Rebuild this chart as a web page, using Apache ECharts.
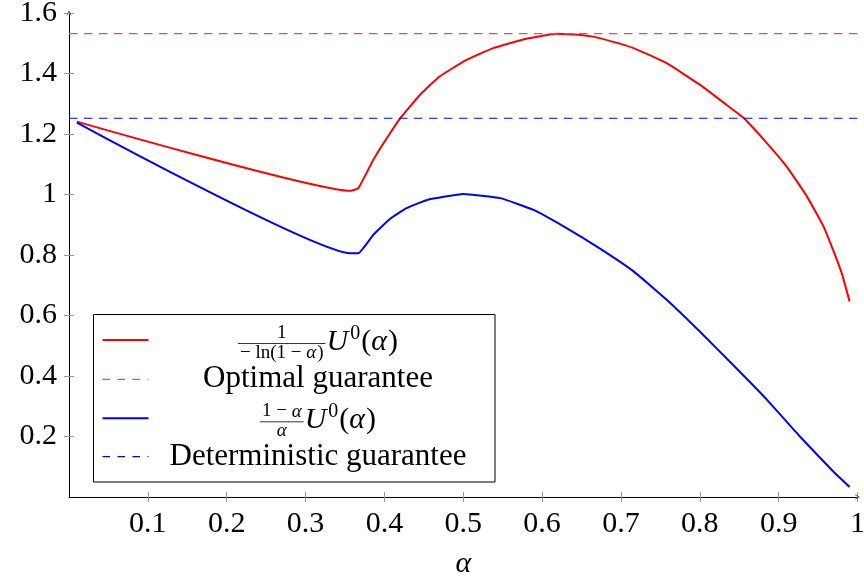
<!DOCTYPE html>
<html>
<head>
<meta charset="utf-8">
<script src="https://cdn.jsdelivr.net/npm/echarts@6/dist/echarts.min.js"></script>
<style>
  html, body { margin: 0; padding: 0; background: #fff; }
</style>
</head>
<body>
<div id="chart" style="width: 864px; height: 577px"></div>
<script>
// values
var redAlpha = [0.010, 0.357, 0.367, 0.386, 0.403, 0.420, 0.445, 0.470, 0.504, 0.538, 0.580, 0.618, 0.657, 0.673, 0.716, 0.758, 0.800, 0.834, 0.856, 0.885, 0.910, 0.936, 0.957, 0.969, 0.980, 0.990];
var redValue = [1.241, 1.012, 1.021, 1.115, 1.186, 1.252, 1.329, 1.390, 1.445, 1.484, 1.515, 1.531, 1.525, 1.517, 1.484, 1.434, 1.363, 1.296, 1.252, 1.170, 1.093, 0.993, 0.894, 0.817, 0.740, 0.646];
var blueAlpha = [0.010, 0.357, 0.367, 0.386, 0.407, 0.428, 0.454, 0.500, 0.547, 0.589, 0.631, 0.673, 0.716, 0.758, 0.800, 0.842, 0.885, 0.927, 0.969, 0.990];
var blueValue = [1.238, 0.806, 0.806, 0.867, 0.919, 0.955, 0.982, 1.002, 0.988, 0.949, 0.889, 0.822, 0.746, 0.652, 0.547, 0.437, 0.322, 0.200, 0.085, 0.033];
var optimalGuarantee = 1.532;
var deterministicGuarantee = 1.252;
var guideAlpha = [0, 1.01];
var xTicks = [0.1, 0.2, 0.3, 0.4, 0.5, 0.6, 0.7, 0.8, 0.9, 1];
var yTicks = [0.2, 0.4, 0.6, 0.8, 1, 1.2, 1.4, 1.6];

var FONT = '"Liberation Serif", "DejaVu Serif", serif';
var chart = echarts.init(document.getElementById("chart"));

function pairs(xs, ys) {
  return xs.map(function (x, i) {
    return [x, ys[i]];
  });
}

// text measuring for the hand made legend
var ctx = document.createElement("canvas").getContext("2d");
function fontStr(size, italic) {
  return (italic ? "italic " : "") + size + "px " + FONT;
}
function textW(t, size, italic) {
  ctx.font = fontStr(size, italic);
  return ctx.measureText(t).width;
}
// one piece of text put on a baseline
function piece(x, base, t, size, italic, align) {
  return {
    type: "text",
    x: x,
    y: base - 0.305 * size,
    z: 110,
    style: {
      text: t,
      font: fontStr(size, italic),
      fill: "#000",
      align: align || "left",
      verticalAlign: "middle",
    },
  };
}
// a run of pieces, left to right; parts = [text, size, italic, baseShift, extraGap]
function run(x0, base, parts, out) {
  var x = x0;
  parts.forEach(function (p) {
    out.push(piece(x, base + (p[3] || 0), p[0], p[1], p[2]));
    x += textW(p[0], p[1], p[2]) + (p[4] || 0);
  });
  return x - x0;
}
function runWidth(parts) {
  var w = 0;
  parts.forEach(function (p) {
    w += textW(p[0], p[1], p[2]) + (p[4] || 0);
  });
  return w;
}
// fraction followed by U^0(alpha)
function mathRow(cx, bar, num, den, out) {
  var big = 30;
  var numW = runWidth(num), denW = runWidth(den);
  var fracW = Math.max(numW, denW) + 4;
  var tail = [
    ["U", big, true, 0, 2],
    ["0", 20, false, -11, 1],
    ["(", big, false, 0],
    ["α", big, true, 0, 1],
    [")", big, false, 0],
  ];
  var tailW = runWidth(tail);
  var x0 = cx - (fracW + 1 + tailW) / 2;
  var fc = x0 + fracW / 2;
  run(fc - numW / 2, bar - 4.5, num, out);
  run(fc - denW / 2, bar + 15, den, out);
  out.push({
    type: "line",
    z: 110,
    shape: { x1: x0, y1: bar, x2: x0 + fracW, y2: bar },
    style: { stroke: "#000", lineWidth: 0.8 },
  });
  run(x0 + fracW + 1, bar + 7.5, tail, out);
}

function sample(y, color, dashed) {
  return {
    type: "line",
    z: 110,
    shape: { x1: 102.5, y1: y, x2: 148.5, y2: y },
    style: {
      stroke: color,
      lineWidth: dashed ? 1.2 : 2,
      lineDash: dashed ? [7.5, 7.5] : null,
    },
  };
}

var legend = [
  {
    type: "rect",
    z: 100,
    shape: { x: 93.5, y: 314.5, width: 401.5, height: 167.5 },
    style: { fill: "#fff", stroke: "#000", lineWidth: 1 },
  },
  sample(340, "#ff0000", false),
  sample(379.3, "#ff4444", true),
  sample(418.3, "#0000ff", false),
  sample(456.7, "#0000ff", true),
];
var cxText = 318;
mathRow(cxText, 343.5,
  [["1", 19, false]],
  [["− ln(1 − ", 19, false], ["α", 19, true, 0, 1], [")", 19, false]],
  legend);
mathRow(cxText, 421.8,
  [["1 − ", 19, false], ["α", 19, true]],
  [["α", 19, true]],
  legend);
legend.push(piece(cxText, 388, "Optimal guarantee", 31, false, "center"));
legend.push(piece(cxText, 466.7, "Deterministic guarantee", 31, false, "center"));

var arrowHead = "path://M0,10 L5,0 L10,10 L9,10 L5,2 L1,10 Z";
var gridBox = { left: 69, right: 6.5, top: 13, bottom: 80, outerBoundsMode: "none" };
var tickStyle = { color: "#999", width: 1 };

var option = {
  animation: false,
  backgroundColor: "#fff",
  // two grids on the same box: the second only gives the inner half of each tick
  grid: [gridBox, gridBox],
  xAxis: [
    {
      type: "value",
      gridIndex: 0,
      min: 0,
      max: 1,
      name: "α",
      nameLocation: "middle",
      nameGap: 52,
      nameTextStyle: { fontFamily: FONT, fontStyle: "italic", fontSize: 30, color: "#000" },
      axisLine: {
        show: true,
        lineStyle: { color: "#000", width: 1 },
        symbol: ["none", arrowHead],
        symbolSize: [8, 5],
      },
      axisTick: { show: true, length: 5, customValues: xTicks, lineStyle: tickStyle },
      axisLabel: { customValues: xTicks, fontFamily: FONT, fontSize: 30, color: "#000", margin: 12 },
      splitLine: { show: false },
    },
    {
      type: "value",
      gridIndex: 1,
      min: 0,
      max: 1,
      axisLine: { show: false },
      axisTick: { show: true, inside: true, length: 5, customValues: xTicks, lineStyle: tickStyle },
      axisLabel: { show: false },
      splitLine: { show: false },
    },
  ],
  yAxis: [
    {
      type: "value",
      gridIndex: 0,
      min: 0,
      max: 1.6,
      axisLine: {
        show: true,
        lineStyle: { color: "#000", width: 1 },
        symbol: ["none", arrowHead],
        symbolSize: [8, 5],
      },
      axisTick: { show: true, length: 5, customValues: yTicks, lineStyle: tickStyle },
      axisLabel: { customValues: yTicks, fontFamily: FONT, fontSize: 30, color: "#000", margin: 12 },
      splitLine: { show: false },
    },
    {
      type: "value",
      gridIndex: 1,
      min: 0,
      max: 1.6,
      axisLine: { show: false },
      axisTick: { show: true, inside: true, length: 5, customValues: yTicks, lineStyle: tickStyle },
      axisLabel: { show: false },
      splitLine: { show: false },
    },
  ],
  series: [
    {
      name: "red",
      type: "line",
      data: pairs(redAlpha, redValue),
      showSymbol: false,
      smooth: 0.12,
      lineStyle: { color: "#ff0000", width: 2 },
    },
    {
      name: "Optimal guarantee",
      type: "line",
      data: pairs(guideAlpha, [optimalGuarantee, optimalGuarantee]),
      showSymbol: false,
      clip: false,
      lineStyle: { color: "#ff4444", width: 1.3, type: [8.5, 6.5] },
    },
    {
      name: "blue",
      type: "line",
      data: pairs(blueAlpha, blueValue),
      showSymbol: false,
      smooth: 0.12,
      lineStyle: { color: "#0000ff", width: 2 },
    },
    {
      name: "Deterministic guarantee",
      type: "line",
      data: pairs(guideAlpha, [deterministicGuarantee, deterministicGuarantee]),
      showSymbol: false,
      clip: false,
      lineStyle: { color: "#0000ff", width: 1.2, type: [8.5, 6.5] },
    },
  ],
  graphic: legend,
};
chart.setOption(option);
</script>
</body>
</html>
